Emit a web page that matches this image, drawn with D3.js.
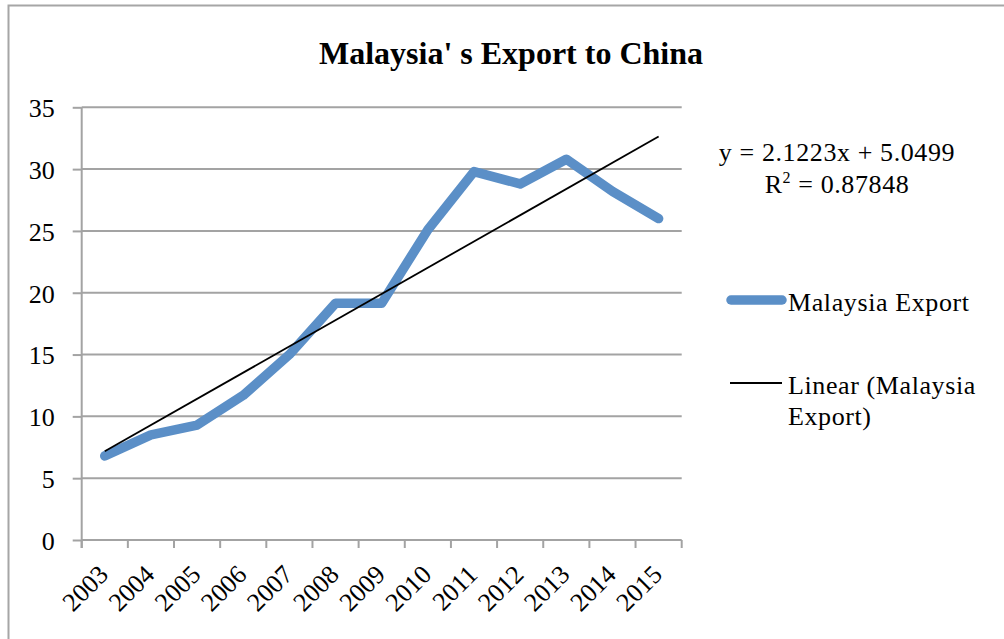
<!DOCTYPE html>
<html>
<head>
<meta charset="utf-8">
<script src="https://cdn.jsdelivr.net/npm/d3@7"></script>
<style>
  html, body { margin: 0; padding: 0; background: #fff; }
  svg { display: block; }
  text { font-family: "Liberation Serif", "Times New Roman", serif; fill: #000; }
</style>
</head>
<body>
<script>
// Malaysia's export to China, 2003–2015
const years = ["2003","2004","2005","2006","2007","2008","2009","2010","2011","2012","2013","2014","2015"];
const exportValues = [6.8, 8.5, 9.3, 11.7, 15.0, 19.15, 19.15, 25.1, 29.8, 28.8, 30.8, 28.2, 26.0];
const yTicks = [0, 5, 10, 15, 20, 25, 30, 35];
// Linear trend line coefficients (x = 1 for the first year)
const trendSlope = [2.1223];
const trendIntercept = [5.0499];
const trendR2 = ["0.87848"];
const titleText = "Malaysia' s Export to China";
const seriesName = "Malaysia Export";
const trendName = ["Linear (Malaysia", "Export)"];

const W = 1004, H = 639;
const plot = { left: 81.7, right: 681.7, top: 107.3, bottom: 540 };
const blue = "#5b8fc7";
const gridColor = "#a3a3a3";

const svg = d3.select("body").append("svg").attr("width", W).attr("height", H);

// chart frame
svg.append("path")
  .attr("d", `M8.5,${H} V5.5 H${W}`)
  .attr("fill", "none").attr("stroke", "#a6a6a6").attr("stroke-width", 2);

const x = d3.scaleBand().domain(years).range([plot.left, plot.right]).padding(0);
const y = d3.scaleLinear().domain([0, 35]).range([plot.bottom, plot.top]);
const cx = d => x(d) + x.bandwidth() / 2;

// horizontal gridlines
svg.append("g").selectAll("line").data(yTicks).join("line")
  .attr("x1", plot.left).attr("x2", plot.right)
  .attr("y1", d => y(d)).attr("y2", d => y(d))
  .attr("stroke", gridColor).attr("stroke-width", 2);

// y axis
const yAxis = svg.append("g").attr("transform", `translate(${plot.left},0)`)
  .call(d3.axisLeft(y).tickValues(yTicks).tickSize(9).tickSizeOuter(0).tickPadding(0));
yAxis.select(".domain").remove();
yAxis.selectAll(".tick line").attr("stroke", gridColor).attr("stroke-width", 2);
yAxis.selectAll(".tick text")
  .attr("x", -27).attr("dy", "0.36em")
  .style("font-size", "26px").attr("fill", "#000");
svg.append("line")
  .attr("x1", plot.left).attr("x2", plot.left)
  .attr("y1", plot.top).attr("y2", plot.bottom + 8)
  .attr("stroke", gridColor).attr("stroke-width", 2);

// x axis: ticks on band boundaries, rotated year labels
const boundaries = years.map(d => x(d)).concat([plot.right]);
svg.append("g").selectAll("line").data(boundaries).join("line")
  .attr("x1", d => d).attr("x2", d => d)
  .attr("y1", plot.bottom).attr("y2", plot.bottom + 8)
  .attr("stroke", gridColor).attr("stroke-width", 2);

svg.append("g").selectAll("text").data(years).join("text")
  .attr("transform", d => `translate(${cx(d) + 5},${plot.bottom + 36}) rotate(-45)`)
  .attr("text-anchor", "end")
  .style("font-size", "26px")
  .text(d => d);

// data line
svg.append("path")
  .datum(exportValues)
  .attr("d", d3.line().x((d, i) => cx(years[i])).y(d => y(d)))
  .attr("fill", "none").attr("stroke", blue).attr("stroke-width", 9.5)
  .attr("stroke-linejoin", "round").attr("stroke-linecap", "round");

// linear trend line from the stated equation, drawn over the series
svg.append("path")
  .datum([years[0], years[years.length - 1]])
  .attr("d", d3.line()
    .x(d => cx(d))
    .y(d => y(trendSlope[0] * (years.indexOf(d) + 1) + trendIntercept[0]))
  )
  .attr("fill", "none").attr("stroke", "#000").attr("stroke-width", 1.8);

// title
svg.append("text")
  .attr("x", 511).attr("y", 64)
  .attr("text-anchor", "middle")
  .style("font-size", "32px").style("font-weight", "bold")
  .text(titleText);

// equation label
const eq = svg.append("g").style("font-size", "26px").style("letter-spacing", "0.6px");
eq.append("text").attr("x", 837).attr("y", 161).attr("text-anchor", "middle")
  .text(`y = ${trendSlope[0]}x + ${trendIntercept[0]}`);
const r2 = eq.append("text").attr("x", 837).attr("y", 193).attr("text-anchor", "middle");
r2.append("tspan").text("R");
r2.append("tspan").attr("dy", -10).style("font-size", "16px").text("2");
r2.append("tspan").attr("dy", 10).text(` = ${trendR2[0]}`);

// legend
const lg = svg.append("g").style("font-size", "26px").style("letter-spacing", "0.6px");
lg.append("line").attr("x1", 731).attr("x2", 782).attr("y1", 300).attr("y2", 300)
  .attr("stroke", blue).attr("stroke-width", 9.5).attr("stroke-linecap", "round");
lg.append("text").attr("x", 788).attr("y", 311).text(seriesName);
lg.append("line").attr("x1", 730).attr("x2", 782).attr("y1", 383).attr("y2", 383)
  .attr("stroke", "#000").attr("stroke-width", 1.8);
lg.append("text").attr("x", 788).attr("y", 394).text(trendName[0]);
lg.append("text").attr("x", 788).attr("y", 425).text(trendName[1]);
</script>
</body>
</html>
